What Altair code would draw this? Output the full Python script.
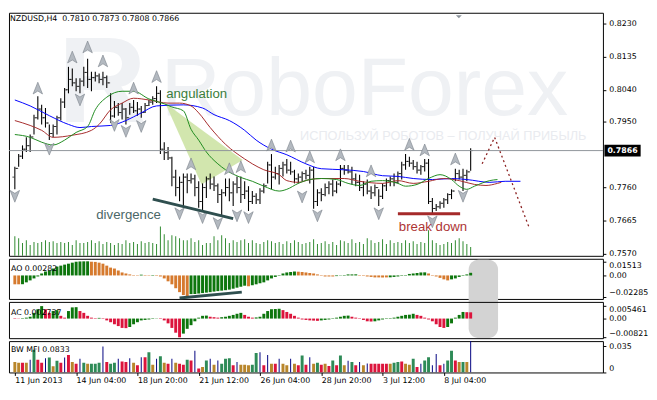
import altair as alt
import pandas as pd

FONT = "DejaVu Sans"
ANN_FONT = "Liberation Sans"

# ---------------- axis texts ----------------
x_labels = ["11 Jun 2013", "14 Jun 04:00", "18 Jun 20:00", "21 Jun 12:00",
            "26 Jun 04:00", "28 Jun 20:00", "3 Jul 12:00", "8 Jul 04:00"]
x_label_bars = [0, 16, 32, 48, 64, 80, 96, 112]
price_ticks = [0.8230, 0.8135, 0.8040, 0.7950, 0.7760, 0.7665, 0.7570]
ao_ticks = [0.01513, 0.0, -0.02285]
ac_ticks = [0.005461, 0.0, -0.00821]
mfi_ticks = [0.035, 0.0]
header = "NZDUSD,H4\u00a0\u00a00.7810 0.7873 0.7808 0.7866"
last_price = 0.7866

# ---------------- price bars (H4) ----------------
high = [0.7820, 0.7856, 0.7881, 0.7904, 0.7912, 0.7969, 0.8022, 0.7997, 0.7988, 0.7941,
        0.7941, 0.7966, 0.8016, 0.8045, 0.8106, 0.8101, 0.8073, 0.8073, 0.8106, 0.8129,
        0.8092, 0.8092, 0.8087, 0.8092, 0.8081, 0.8030, 0.8008, 0.8002, 0.8002, 0.7988,
        0.8002, 0.8011, 0.8005, 0.7994, 0.8002, 0.8011, 0.8022, 0.8050, 0.8039, 0.7890,
        0.7876, 0.7848, 0.7811, 0.7792, 0.7800, 0.7800, 0.7800, 0.7797, 0.7778, 0.7772,
        0.7792, 0.7800, 0.7792, 0.7772, 0.7755, 0.7786, 0.7786, 0.7778, 0.7792, 0.7792,
        0.7778, 0.7764, 0.7750, 0.7744, 0.7758, 0.7772, 0.7834, 0.7856, 0.7820, 0.7825,
        0.7834, 0.7842, 0.7834, 0.7811, 0.7800, 0.7806, 0.7811, 0.7820, 0.7820, 0.7755,
        0.7758, 0.7772, 0.7778, 0.7783, 0.7778, 0.7825, 0.7825, 0.7825, 0.7820, 0.7800,
        0.7797, 0.7778, 0.7783, 0.7764, 0.7769, 0.7755, 0.7772, 0.7786, 0.7792, 0.7800,
        0.7806, 0.7834, 0.7856, 0.7848, 0.7839, 0.7834, 0.7825, 0.7842, 0.7842, 0.7730,
        0.7713, 0.7721, 0.7730, 0.7744, 0.7755, 0.7814, 0.7811, 0.7814, 0.7811, 0.7873]
low = [0.7755, 0.7820, 0.7842, 0.7862, 0.7862, 0.7912, 0.7955, 0.7941, 0.7932, 0.7896,
       0.7904, 0.7912, 0.7952, 0.7988, 0.8030, 0.8050, 0.8036, 0.8030, 0.8050, 0.8045,
       0.8036, 0.8064, 0.8059, 0.8053, 0.8045, 0.7946, 0.7960, 0.7966, 0.7955, 0.7941,
       0.7969, 0.7974, 0.7966, 0.7960, 0.7974, 0.7994, 0.7997, 0.8002, 0.7856, 0.7839,
       0.7839, 0.7764, 0.7735, 0.7721, 0.7707, 0.7744, 0.7772, 0.7735, 0.7702, 0.7693,
       0.7730, 0.7755, 0.7750, 0.7716, 0.7679, 0.7735, 0.7721, 0.7707, 0.7744, 0.7716,
       0.7727, 0.7693, 0.7713, 0.7713, 0.7713, 0.7744, 0.7772, 0.7755, 0.7783, 0.7769,
       0.7792, 0.7800, 0.7797, 0.7772, 0.7772, 0.7778, 0.7783, 0.7772, 0.7699, 0.7707,
       0.7721, 0.7735, 0.7741, 0.7735, 0.7744, 0.7764, 0.7797, 0.7800, 0.7769, 0.7764,
       0.7750, 0.7735, 0.7741, 0.7727, 0.7735, 0.7707, 0.7727, 0.7750, 0.7764, 0.7764,
       0.7772, 0.7783, 0.7811, 0.7820, 0.7811, 0.7800, 0.7797, 0.7806, 0.7713, 0.7685,
       0.7693, 0.7699, 0.7702, 0.7713, 0.7727, 0.7778, 0.7783, 0.7750, 0.7778, 0.7808]
close = [0.7815, 0.7850, 0.7870, 0.7880, 0.7905, 0.7960, 0.7985, 0.7960, 0.7945, 0.7915,
         0.7935, 0.7960, 0.8005, 0.8040, 0.8070, 0.8060, 0.8050, 0.8065, 0.8090, 0.8070,
         0.8075, 0.8080, 0.8070, 0.8075, 0.8060, 0.7965, 0.7990, 0.7975, 0.7985, 0.7960,
         0.7990, 0.7980, 0.7985, 0.7975, 0.7995, 0.8005, 0.8015, 0.8030, 0.7870, 0.7860,
         0.7845, 0.7790, 0.7760, 0.7775, 0.7790, 0.7780, 0.7785, 0.7760, 0.7720, 0.7760,
         0.7785, 0.7770, 0.7765, 0.7740, 0.7745, 0.7760, 0.7745, 0.7770, 0.7760, 0.7740,
         0.7750, 0.7720, 0.7735, 0.7725, 0.7750, 0.7765, 0.7825, 0.7790, 0.7800, 0.7815,
         0.7825, 0.7810, 0.7805, 0.7785, 0.7790, 0.7800, 0.7795, 0.7810, 0.7720, 0.7745,
         0.7740, 0.7760, 0.7770, 0.7750, 0.7770, 0.7815, 0.7810, 0.7805, 0.7785, 0.7775,
         0.7760, 0.7770, 0.7750, 0.7745, 0.7760, 0.7735, 0.7765, 0.7780, 0.7785, 0.7775,
         0.7800, 0.7825, 0.7835, 0.7830, 0.7820, 0.7810, 0.7820, 0.7830, 0.7720, 0.7700,
         0.7705, 0.7715, 0.7725, 0.7740, 0.7750, 0.7800, 0.7790, 0.7795, 0.7805, 0.7866]
first_open = 0.7790
volume = [20, 18, 13, 16, 11, 14, 13, 14, 16, 14, 15, 13, 14, 13, 14, 11, 16, 13, 13, 14,
          16, 13, 15, 12, 14, 13, 11, 13, 12, 16, 13, 14, 12, 15, 13, 14, 13, 12,
          30, 22, 16, 21, 20, 18, 16, 16, 18, 14, 16, 11, 13, 13, 20, 16, 21, 18, 13, 16,
          14, 16, 17, 13, 16, 13, 12, 14,
          16, 15, 13, 14, 12, 15, 13, 16, 14, 12, 13, 14, 17, 12,
          13, 15, 12, 14, 11, 16, 15, 13, 17, 13, 14, 12, 18, 16, 13, 14, 17, 12, 16, 13,
          14, 13, 16, 13, 15, 12, 14, 13,
          26, 16, 13, 11, 12, 14, 13, 16, 18, 15, 12, 9]

# ---------------- Alligator lines (read at sample bars) ----------------
jaw_i = [0, 4, 9, 14, 17, 20, 25, 29, 33, 37, 44, 49, 52, 56, 60, 63, 67, 71, 76, 80,
         86, 91, 96, 100, 104, 109, 114, 118, 124, 128, 132]
jaw_p = [0.8011, 0.7994, 0.7966, 0.7941, 0.7932, 0.7935, 0.7938, 0.7952, 0.7974, 0.7994,
         0.7997, 0.7988, 0.7969, 0.7952, 0.7924, 0.7896, 0.7870, 0.7854, 0.7828, 0.7814,
         0.7811, 0.7806, 0.7794, 0.7792, 0.7786, 0.7783, 0.7786, 0.7783, 0.7775, 0.7778, 0.7778]
teeth_i = [0, 4, 7, 10, 15, 20, 22, 25, 28, 31, 35, 40, 43, 46, 48, 51, 55, 60, 62, 65,
           69, 71, 74, 77, 80, 86, 90, 96, 100, 104, 108, 112, 116, 120, 123, 126, 127]
teeth_p = [0.7952, 0.7938, 0.7924, 0.7904, 0.7910, 0.7924, 0.7941, 0.7983, 0.8002, 0.8016,
           0.8011, 0.8002, 0.8002, 0.7994, 0.7974, 0.7932, 0.7884, 0.7842, 0.7828, 0.7811,
           0.7797, 0.7780, 0.7775, 0.7783, 0.7786, 0.7786, 0.7778, 0.7772, 0.7780, 0.7772,
           0.7778, 0.7786, 0.7780, 0.7769, 0.7766, 0.7772, 0.7775]
lips_i = [0, 4, 7, 10, 13, 16, 19, 21, 24, 28, 31, 35, 39, 41, 44, 46, 48, 50, 53, 55,
          59, 62, 65, 69, 71, 74, 77, 80, 84, 87, 90, 93, 96, 100, 102, 105, 108, 111, 114, 116,
          118, 120, 124, 126]
lips_p = [0.7912, 0.7904, 0.7890, 0.7882, 0.7896, 0.7918, 0.7935, 0.7983, 0.8019, 0.8036,
          0.8036, 0.8014, 0.8000, 0.7991, 0.7980, 0.7927, 0.7896, 0.7862, 0.7828, 0.7811,
          0.7789, 0.7778, 0.7764, 0.7750, 0.7755, 0.7772, 0.7783, 0.7786, 0.7783, 0.7772,
          0.7766, 0.7778, 0.7780, 0.7772, 0.7764, 0.7769, 0.7786, 0.7797, 0.7783, 0.7764,
          0.7755, 0.7764, 0.7780, 0.7783]

# ---------------- fractals ----------------
frac_up_i = [6, 15, 19, 23, 31, 37, 46, 56, 59, 67, 72, 77, 85, 93, 103, 107, 115]
frac_up_p = [0.8045, 0.8134, 0.8163, 0.8123, 0.8045, 0.8078, 0.7828, 0.7814, 0.7820, 0.7882,
             0.7879, 0.7848, 0.7854, 0.7808, 0.7884, 0.7868, 0.7842]
frac_dn_i = [0, 9, 17, 26, 29, 33, 43, 49, 53, 58, 61, 75, 79, 95, 109, 117]
frac_dn_p = [0.7735, 0.7870, 0.8011, 0.7938, 0.7921, 0.7935, 0.7685, 0.7674, 0.7657, 0.7679,
             0.7674, 0.7733, 0.7679, 0.7685, 0.7662, 0.7735]

# ---------------- Awesome Oscillator ----------------
ao_val = [-0.0095, -0.0095, -0.0094, -0.0074, -0.0053, -0.0032, -0.0011, 0.0021, 0.0042, 0.0053,
          0.0074, 0.0095, 0.0105, 0.0116, 0.0126, 0.0137, 0.0147, 0.0150, 0.0151, 0.01513,
          0.0147, 0.0145, 0.0137, 0.0126, 0.0105, 0.0084, 0.0074, 0.0053, 0.0032, 0.0021,
          0.0011, 0.0005, 0.0004, 0.0008, 0.0005, 0.0004, 0.0005, -0.0005, -0.0011, -0.0032,
          -0.0063, -0.0095, -0.0137, -0.0179, -0.0210, -0.02285, -0.0200, -0.0199, -0.0194, -0.0189,
          -0.0184, -0.0179, -0.0173, -0.0168, -0.0163, -0.0158, -0.0152, -0.0142, -0.0131, -0.0121,
          -0.0110, -0.0116, -0.0105, -0.0095, -0.0084, -0.0074, -0.0053, -0.0032, -0.0016, 0.0005,
          0.0021, 0.0032, 0.0037, 0.0042, 0.0040, 0.0037, 0.0032, 0.0026, 0.0021, 0.0011,
          0.0005, -0.0011, -0.0011, -0.0011, -0.0007, -0.0003, 0.0005, 0.0011, 0.0011, 0.0012,
          0.0005, -0.0005, -0.0011, -0.0016, -0.0021, -0.0021, -0.0022, -0.0021, -0.0020, -0.0016,
          -0.0011, -0.0005, 0.0005, 0.0016, 0.0021, 0.0026, 0.0032, 0.0033, 0.0021, 0.0005,
          -0.0011, -0.0026, -0.0042, -0.0053, -0.0042, -0.0032, -0.0016, -0.0005, 0.0011, 0.00282]
ao_runs = [("D", 2), ("U", 18), ("D", 13), ("U", 1), ("D", 2), ("U", 1), ("D", 9), ("U", 15),
           ("D", 1), ("U", 12), ("D", 10), ("U", 6), ("D", 8), ("U", 10), ("D", 6), ("U", 6)]
ao_div_i = [43, 59.25]
ao_div_v = [-0.0242, -0.0179]

# ---------------- Accelerator Oscillator ----------------
ac_val = [-0.0002, -0.0001, 0.0002, 0.0004, 0.0008, 0.0025, 0.0041, 0.005461, 0.0041, 0.0025,
          0.0033, 0.0037, 0.0012, 0.0004, 0.0033, 0.0049, 0.0050, 0.0033, 0.0025, 0.0012,
          0.0004, 0.0002, 0.0003, -0.0002, -0.0008, -0.0016, -0.0025, -0.0033, -0.0041, -0.0042,
          -0.0037, -0.0025, -0.0016, -0.0008, -0.0006, -0.0004, -0.0002, -0.0001, -0.0002, -0.0008,
          -0.0021, -0.0041, -0.0062, -0.00821, -0.0066, -0.0045, -0.0029, -0.0012, 0.0004, 0.0012,
          0.0013, 0.0008, 0.0006, 0.0004, 0.0006, 0.0008, 0.0012, 0.0016, 0.0021, 0.0025,
          0.0016, 0.0008, 0.0004, 0.0005, 0.0008, 0.0021, 0.0033, 0.0041, 0.0042, 0.0043,
          0.0037, 0.0029, 0.0021, 0.0012, 0.0004, -0.0004, -0.0006, -0.0008, -0.0009, -0.0010,
          -0.0008, -0.0006, -0.0004, -0.0002, 0.0004, 0.0008, 0.0012, 0.0013, 0.0008, 0.0004,
          -0.0002, -0.0006, -0.0012, -0.0013, -0.0012, -0.0008, -0.0004, -0.0002, 0.0002, 0.0004,
          0.0008, 0.0012, 0.0016, 0.0017, 0.0021, 0.0016, 0.0012, 0.0004, -0.0004, -0.0012,
          -0.0025, -0.0037, -0.0041, -0.0037, -0.0021, 0.0004, 0.0016, 0.0029, 0.0028, 0.002737]
ac_runs = [("D", 2), ("U", 6), ("D", 2), ("U", 2), ("D", 2), ("U", 3), ("D", 5), ("U", 1),
           ("D", 7), ("U", 8), ("D", 6), ("U", 7), ("D", 3), ("U", 6), ("D", 3), ("U", 7),
           ("D", 10), ("U", 8), ("D", 6), ("U", 11), ("D", 8), ("U", 5), ("D", 2)]

# ---------------- BW Market Facilitation Index ----------------
mfi_kind = list("YYRYNGRRNGYGRNRYRNGYGGGN"
                "RGGNRRNYRNRGYNGYRNYRRGRNRYGNYNGGGRNYYYGGNRNYRNYYNYRGRNYGR"
                "YRGRGYNGRNYNRRRRRYGGRYYGRNGGNNRNGGRYGYN")
mfi_val = [0.0138, 0.0129, 0.0129, 0.0129, 0.0168, 0.0301, 0.0168, 0.0129, 0.0189, 0.0198,
           0.0082, 0.0155, 0.0129, 0.0198, 0.0232, 0.0138, 0.0116, 0.0181, 0.0129, 0.0116,
           0.0116, 0.0116, 0.0129, 0.0344,
           0.0138, 0.0116, 0.0129, 0.0181, 0.0146, 0.0138, 0.0189, 0.0129, 0.0095, 0.0202,
           0.0202, 0.0267, 0.0103, 0.0181, 0.0215, 0.0129, 0.0116, 0.0181, 0.0129, 0.0116,
           0.0103, 0.0168, 0.0159, 0.0288, 0.0052, 0.0073, 0.0159, 0.0181, 0.0103, 0.0159,
           0.0116, 0.0181, 0.0189, 0.0095, 0.0138, 0.0103, 0.0103, 0.0095, 0.0103, 0.0258,
           0.0267, 0.0095, 0.0232, 0.0116, 0.0116, 0.0181, 0.0116, 0.0095, 0.0181, 0.0116,
           0.0095, 0.0224, 0.0103, 0.0202, 0.0116, 0.0129, 0.0103,
           0.0116, 0.0087, 0.0159, 0.0095, 0.0224, 0.0095, 0.0155, 0.0138, 0.0095, 0.0138,
           0.0095, 0.0120, 0.0116, 0.0116, 0.0116, 0.0116, 0.0116, 0.0116, 0.0129, 0.0138,
           0.0146, 0.0116, 0.0103, 0.0181, 0.0073, 0.0116, 0.0159, 0.0202, 0.0095, 0.0245,
           0.0095, 0.0116, 0.0159, 0.0288, 0.0159, 0.0138, 0.0138, 0.0138, 0.0833]

# ---------------- annotations ----------------
angle_i = [39.25, 48.75, 59.5]
angle_top = [0.8002, 0.7926, 0.7839]
angle_bot = [0.8002, 0.7769, 0.7839]
div_i = [36, 57]
div_p = [0.7727, 0.7671]
brk_i = [100, 116.25]
brk_p = [0.7685, 0.7685]
fc_i = [122, 125.25, 134.25]
fc_p = [0.7828, 0.7904, 0.7646]
notes = ["angulation", "divergence", "break down"]
note_i = [39.5, 21.25, 100.25]
note_p = [0.8028, 0.7682, 0.7648]
note_colors = ["#3b7d3b", "#4b6767", "#ad3434"]


def expand(runs):
    out = []
    for k, n in runs:
        out.extend([k] * n)
    return out


N = len(high)
assert len(low) == N and len(close) == N and len(volume) == N
assert len(ao_val) == N and len(ac_val) == N and len(mfi_val) == N and len(mfi_kind) == N

idx = list(range(N))
bars = pd.DataFrame({"i": idx, "high": high, "low": low, "close": close,
                     "open": [first_open] + close[:-1], "vol": volume})
ao_df = pd.DataFrame({"i": idx, "v": ao_val, "d": expand(ao_runs)})
ac_df = pd.DataFrame({"i": idx, "v": ac_val, "d": expand(ac_runs)})
mfi_df = pd.DataFrame({"i": idx, "v": mfi_val, "k": mfi_kind})

# ---------------- sizes / scales / axes ----------------
W = 606
H_MAIN, H_AO, H_AC, H_MFI = 248, 41, 37, 32
XS = alt.Scale(domain=[-0.25, 152.25], nice=False, zero=False)
PS = alt.Scale(domain=[0.75644, 0.82609], nice=False, zero=False)
AOS = alt.Scale(domain=[-0.0252, 0.01785], nice=False, zero=False)
ACS = alt.Scale(domain=[-0.0086, 0.00731], nice=False, zero=False)
MFS = alt.Scale(domain=[0, 0.0416], nice=False, zero=False)

axis_common = dict(orient="right", labelFont=FONT, labelFontSize=8, labelColor="black",
                   tickColor="black", tickSize=3, labelPadding=3, domain=False, grid=False,
                   title=None, labelOverlap=False, labelFlush=False)
price_axis = alt.Axis(values=price_ticks, format=".4f", **axis_common)
ao_axis = alt.Axis(values=ao_ticks,
                   labelExpr="datum.value == 0 ? '0.00' : format(datum.value, '.5~f')",
                   labelBaseline={"condition": [{"test": "datum.value > 0", "value": "top"},
                                                {"test": "datum.value < 0", "value": "bottom"}],
                                  "value": "middle"},
                   **axis_common)
ac_axis = alt.Axis(values=ac_ticks,
                   labelExpr="datum.value == 0 ? '0.00' : format(datum.value, '.6~f')",
                   labelBaseline={"condition": [{"test": "datum.value > 0", "value": "top"},
                                                {"test": "datum.value < 0", "value": "bottom"}],
                                  "value": "middle"},
                   **axis_common)
mfi_axis = alt.Axis(values=mfi_ticks,
                    labelExpr="datum.value == 0 ? '0' : format(datum.value, '.3~f')",
                    labelBaseline={"condition": {"test": "datum.value == 0", "value": "bottom"},
                                   "value": "middle"},
                    **axis_common)
lab_js = "[" + ",".join("'" + s + "'" for s in x_labels) + "]"
pos_js = "[" + ",".join(str(v) for v in x_label_bars) + "]"
time_axis = alt.Axis(values=x_label_bars, labelExpr=f"{lab_js}[indexof({pos_js}, datum.value)]",
                     labelAlign="left", labelBaseline="top", tickSize=3, labelPadding=1,
                     domain=False, grid=False, title=None, labelFont=FONT, labelFontSize=8,
                     labelColor="black", tickColor="black", labelFlush=False, labelOverlap=False)


def X(field="i", axis=None):
    return alt.X(f"{field}:Q", scale=XS, axis=axis)


def P(field):
    return alt.Y(f"{field}:Q", scale=PS, axis=price_axis)


def one(text):
    return pd.DataFrame({"t": [text]})


UP = "M0,-1L0.8,1L0,0.5L-0.8,1Z"
DN = "M0,1L0.8,-1L0,-0.5L-0.8,-1Z"
BOX = "M-1.54,-0.5L1.54,-0.5L1.54,0.5L-1.54,0.5Z"
SHIFT = "M-1,-0.5L1,-0.5L0,0.5Z"

# ---------------- main panel ----------------
wm_color = "#eff1f4"
wm_logo = alt.Chart(one("R")).mark_text(font=ANN_FONT, fontSize=125, fontWeight="bold",
                                        color=wm_color, align="left", baseline="top").encode(
    x=alt.value(50), y=alt.value(12), text="t:N")
wm_name = alt.Chart(one("RoboForex")).mark_text(font=ANN_FONT, fontSize=84, color=wm_color,
                                                align="left", baseline="top").encode(
    x=alt.value(155), y=alt.value(38), text="t:N")
wm_slogan = alt.Chart(one("ИСПОЛЬЗУЙ РОБОТОВ – ПОЛУЧАЙ ПРИБЫЛЬ")).mark_text(
    font=ANN_FONT, fontSize=13, color="#e9ebef", align="left", baseline="top").encode(
    x=alt.value(297), y=alt.value(120), text="t:N")
tri = alt.Chart(pd.DataFrame({"i": angle_i, "top": angle_top, "bot": angle_bot})).mark_area(
    color="#cde3a5", opacity=0.9, interpolate="linear").encode(
    x=X(), y=alt.Y("top:Q", scale=PS, axis=None), y2="bot:Q")
layer_back = alt.layer(wm_logo, wm_name, wm_slogan, tri)

vol = alt.Chart(bars).mark_bar(size=1, color="#2f8a2f").encode(
    x=X(), y=alt.Y("vol:Q", scale=alt.Scale(domain=[0, H_MAIN], nice=False), axis=None))

hl = alt.Chart(bars).mark_rule(color="black", strokeWidth=1.1).encode(x=X(), y=P("low"), y2="high:Q")
op = alt.Chart(bars).mark_tick(orient="horizontal", size=2, thickness=1, color="black",
                               xOffset=-1.5).encode(x=X(), y=P("open"))
cl = alt.Chart(bars).mark_tick(orient="horizontal", size=2, thickness=1, color="black",
                               xOffset=1.5).encode(x=X(), y=P("close"))


def ma(ii, pp, color):
    return alt.Chart(pd.DataFrame({"i": ii, "p": pp})).mark_line(
        color=color, strokeWidth=1, interpolate="monotone").encode(x=X(), y=P("p"))


jaw = ma(jaw_i, jaw_p, "#0000ff")
teeth = ma(teeth_i, teeth_p, "#a52a2a")
lips = ma(lips_i, lips_p, "#1e8a1e")
price_line = alt.Chart(pd.DataFrame({"p": [last_price]})).mark_rule(
    color="#8e949a", strokeWidth=1).encode(y=P("p"))
fr_up = alt.Chart(pd.DataFrame({"i": frac_up_i, "p": frac_up_p})).mark_point(
    shape=UP, size=144, filled=True, fill="#b3b9c0", stroke="#7a8189", strokeWidth=0.6,
    opacity=1).encode(x=X(), y=P("p"))
fr_dn = alt.Chart(pd.DataFrame({"i": frac_dn_i, "p": frac_dn_p})).mark_point(
    shape=DN, size=144, filled=True, fill="#b3b9c0", stroke="#7a8189", strokeWidth=0.6,
    opacity=1).encode(x=X(), y=P("p"))
div_line = alt.Chart(pd.DataFrame({"i": div_i, "p": div_p})).mark_line(
    color="#2f4f4f", strokeWidth=3).encode(x=X(), y=P("p"))
brk_line = alt.Chart(pd.DataFrame({"i": brk_i, "p": brk_p})).mark_line(
    color="#a52a2a", strokeWidth=3).encode(x=X(), y=P("p"))
fc_line = alt.Chart(pd.DataFrame({"i": fc_i, "p": fc_p})).mark_line(
    color="#8b2020", strokeWidth=1.3, strokeDash=[2, 3]).encode(x=X(), y=P("p"))
note_txt = alt.Chart(pd.DataFrame({"t": notes, "i": note_i, "p": note_p})).mark_text(
    font=ANN_FONT, fontSize=13.5, align="left", baseline="middle").encode(
    x=X(), y=P("p"), text="t:N",
    color=alt.Color("t:N", scale=alt.Scale(domain=notes, range=note_colors), legend=None))
head_txt = alt.Chart(one(header)).mark_text(font=FONT, fontSize=8, color="black",
                                            align="left", baseline="middle").encode(
    x=alt.value(1), y=alt.value(6), text="t:N")
shift_mark = alt.Chart(one("s")).mark_point(shape=SHIFT, size=36, filled=True,
                                            color="#8a929a", opacity=1).encode(
    x=alt.value(459), y=alt.value(4))
box = alt.Chart(pd.DataFrame({"p": [last_price]})).mark_point(
    shape=BOX, size=576, filled=True, color="black", opacity=1).encode(
    x=alt.value(626), y=P("p"))
box_txt = alt.Chart(pd.DataFrame({"p": [last_price], "t": ["0.7866"]})).mark_text(
    font=FONT, fontSize=8, color="white", fontWeight="bold", align="center",
    baseline="middle").encode(x=alt.value(626), y=P("p"), text="t:N")

layer_front = alt.layer(hl, op, cl, jaw, teeth, lips, price_line, fr_up, fr_dn,
                        div_line, brk_line, fc_line, note_txt, head_txt, shift_mark, box, box_txt)

main = alt.layer(layer_back, vol, layer_front).resolve_scale(y="independent").properties(
    width=W, height=H_MAIN)

# ---------------- AO panel ----------------
grey_box = alt.Chart(one("g")).mark_rect(color="#d3d3d3", cornerRadius=10).encode(
    x=alt.value(469), x2=alt.value(499), y=alt.value(1), y2=alt.value(H_AO + 3 + H_AC))
ao_bars = alt.Chart(ao_df).mark_bar(size=3).encode(
    x=X(), y=alt.Y("v:Q", scale=AOS, axis=ao_axis),
    color=alt.Color("d:N", scale=alt.Scale(domain=["U", "D"], range=["#0d760d", "#d67a2e"]),
                    legend=None))
ao_div = alt.Chart(pd.DataFrame({"i": ao_div_i, "v": ao_div_v})).mark_line(
    color="#2f4f4f", strokeWidth=3).encode(x=X(), y=alt.Y("v:Q", scale=AOS, axis=ao_axis))
ao_txt = alt.Chart(one("AO 0.00282")).mark_text(font=FONT, fontSize=8, color="black",
                                                align="left", baseline="middle").encode(
    x=alt.value(2), y=alt.value(10), text="t:N")
ao = alt.layer(grey_box, ao_bars, ao_div, ao_txt).properties(width=W, height=H_AO)

# ---------------- AC panel ----------------
ac_bars = alt.Chart(ac_df).mark_bar(size=3).encode(
    x=X(), y=alt.Y("v:Q", scale=ACS, axis=ac_axis),
    color=alt.Color("d:N", scale=alt.Scale(domain=["U", "D"], range=["#0d760d", "#dc143c"]),
                    legend=None))
ac_txt = alt.Chart(one("AC 0.002737")).mark_text(font=FONT, fontSize=8, color="black",
                                                 align="left", baseline="middle").encode(
    x=alt.value(2), y=alt.value(11), text="t:N")
ac = alt.layer(ac_bars, ac_txt).properties(width=W, height=H_AC)

# ---------------- BW MFI panel ----------------
mfi_color = alt.Color("k:N", scale=alt.Scale(domain=["G", "Y", "R", "N"],
                                             range=["#2e8b57", "#b8862b", "#dc143c", "#000080"]),
                      legend=None)
mfi_wide = alt.Chart(mfi_df).transform_filter("datum.k != 'N'").mark_bar(size=3, clip=True).encode(
    x=X(axis=time_axis), y=alt.Y("v:Q", scale=MFS, axis=mfi_axis), color=mfi_color)
mfi_thin = alt.Chart(mfi_df).transform_filter("datum.k == 'N'").mark_bar(size=1, clip=True).encode(
    x=X(axis=time_axis), y=alt.Y("v:Q", scale=MFS, axis=mfi_axis), color=mfi_color)
mfi_txt = alt.Chart(one("BW MFI 0.0833")).mark_text(font=FONT, fontSize=8, color="black",
                                                    align="left", baseline="middle").encode(
    x=alt.value(2), y=alt.value(9), text="t:N")
mfi = alt.layer(mfi_wide, mfi_thin, mfi_txt).properties(width=W, height=H_MFI)

chart = alt.vconcat(main, ao, ac, mfi, spacing=3).resolve_scale(
    color="independent").properties(
    padding=0, bounds="flush", background="white").configure_view(stroke="black", strokeWidth=1)

chart.save("out.html", embed_options={"renderer": "svg", "actions": False})
